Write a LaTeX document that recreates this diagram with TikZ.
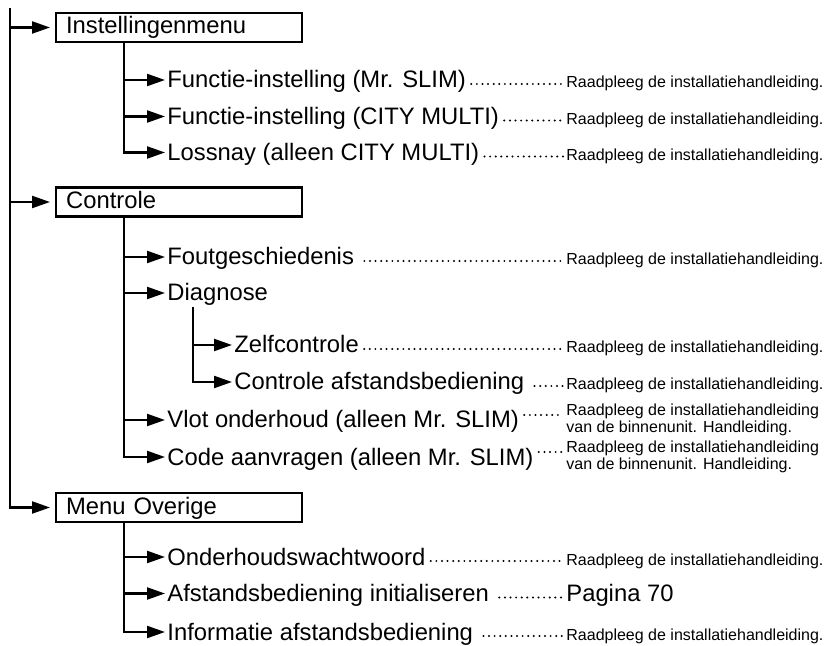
\documentclass[tikz,border=0pt]{standalone}
\usepackage{fontspec}
\setmainfont{Liberation Sans}
\usetikzlibrary{arrows.meta, positioning}
\tikzstyle{menubox} = [rectangle, draw=black, line width=1.1pt, anchor=west, minimum height=14.5pt, text width=113pt, inner xsep=5pt, inner ysep=0pt, align=left, text height=8.5pt, text depth=2pt, font=\fontsize{11.9}{14}\selectfont]
\tikzstyle{item} = [rectangle, inner xsep=1pt, inner ysep=0pt, text height=10pt, text depth=2pt, font=\fontsize{11.9}{14}\selectfont]
\tikzstyle{note} = [inner sep=0pt, anchor=base west, font=\fontsize{8}{7}\selectfont]
\tikzstyle{arrow} = [line width=1.1pt, -{Triangle[length=9pt,width=6pt]}]
\tikzstyle{leader} = [line width=1.1pt, line cap=round, dash pattern=on 0pt off 2.8pt, shorten >=1.5pt]

\begin{document}
\begin{tikzpicture}[x=0.5pt, y=0.5pt]
\useasboundingbox (0,0) rectangle (824,-646);

% Menus
\node (instel) [menubox] at (55,-27.5) {Instellingenmenu};
\node (controle) [menubox] at (55,-202) {Controle};
\node (overige) [menubox] at (55,-507.5) {Menu Overige};

% Instellingenmenu
\node (fmrslim) [item, below right=26.25pt and 55pt of instel.west, anchor=west] {Functie-instelling (Mr. SLIM)};
\node (fcity) [item, below=18.25pt of fmrslim.west, anchor=west] {Functie-instelling (CITY MULTI)};
\node (lossnay) [item, below=18pt of fcity.west, anchor=west] {Lossnay (alleen CITY MULTI)};

% Controle
\node (fout) [item, below right=27.5pt and 55pt of controle.west, anchor=west] {Foutgeschiedenis};
\node (diag) [item, below=18pt of fout.west, anchor=west] {Diagnose};
\node (zelf) [item, below right=26pt and 33.5pt of diag.west, anchor=west] {Zelfcontrole};
\node (afst) [item, below=18.5pt of zelf.west, anchor=west] {Controle afstandsbediening};
\node (vlot) [item, below=63.5pt of diag.west, anchor=west] {Vlot onderhoud (alleen Mr. SLIM)};
\node (code) [item, below=18.5pt of vlot.west, anchor=west] {Code aanvragen (alleen Mr. SLIM)};

% Menu Overige
\node (wacht) [item, below right=24.75pt and 55pt of overige.west, anchor=west] {Onderhoudswachtwoord};
\node (init) [item, below=18.25pt of wacht.west, anchor=west] {Afstandsbediening initialiseren};
\node (info) [item, below=19.25pt of init.west, anchor=west] {Informatie afstandsbediening};

% Verwijzingen
\coordinate (kolom) at (566,0);
\node (r1) [note] at (fmrslim.base -| kolom) {Raadpleeg de installatiehandleiding.};
\node (r2) [note] at (fcity.base -| kolom) {Raadpleeg de installatiehandleiding.};
\node (r3) [note] at (lossnay.base -| kolom) {Raadpleeg de installatiehandleiding.};
\node (r4) [note] at (fout.base -| kolom) {Raadpleeg de installatiehandleiding.};
\node (r5) [note] at (zelf.base -| kolom) {Raadpleeg de installatiehandleiding.};
\node (r6) [note] at (afst.base -| kolom) {Raadpleeg de installatiehandleiding.};
\node (r7) [note, anchor=west, align=left] at (vlot.west -| kolom) {Raadpleeg de installatiehandleiding\\van de binnenunit. Handleiding.};
\node (r8) [note, anchor=west, align=left] at (code.west -| kolom) {Raadpleeg de installatiehandleiding\\van de binnenunit. Handleiding.};
\node (r9) [note] at (wacht.base -| kolom) {Raadpleeg de installatiehandleiding.};
\node (r10) [note, font=\fontsize{11.9}{14}\selectfont] at (init.base -| kolom) {Pagina 70};
\node (r11) [note] at (info.base -| kolom) {Raadpleeg de installatiehandleiding.};

% Hoofdlijn
\coordinate (top) at (10,-8);
\draw [arrow, shorten >=2.5pt] (top) |- (overige);
\draw [arrow, shorten >=2.5pt] (top |- instel.west) -- (instel);
\draw [arrow, shorten >=2.5pt] (top |- controle.west) -- (controle);

% Takken
\coordinate (s1) at ([xshift=34.5pt]instel.south west);
\draw [arrow] (s1) |- (fmrslim);
\draw [arrow] (s1) |- (fcity);
\draw [arrow] (s1) |- (lossnay);
\coordinate (s2) at ([xshift=34.5pt]controle.south west);
\draw [arrow] (s2) |- (fout);
\draw [arrow] (s2) |- (diag);
\draw [arrow] (s2) |- (vlot);
\draw [arrow] (s2) |- (code);
\coordinate (s3) at ([shift={(28,-14)}]diag.west);
\draw [arrow] (s3) |- (zelf);
\draw [arrow] (s3) |- (afst);
\coordinate (s4) at ([xshift=34.5pt]overige.south west);
\draw [arrow] (s4) |- (wacht);
\draw [arrow] (s4) |- (init);
\draw [arrow] (s4) |- (info);

% Stippellijnen
\draw [leader] ([xshift=1.5pt, yshift=2pt]fmrslim.base east) -- ([yshift=2pt]r1.base west);
\draw [leader] ([xshift=1.5pt, yshift=2pt]fcity.base east) -- ([yshift=2pt]r2.base west);
\draw [leader] ([xshift=1.5pt, yshift=2pt]lossnay.base east) -- ([yshift=2pt]r3.base west);
\draw [leader] ([xshift=4pt, yshift=2pt]fout.base east) -- ([yshift=2pt]r4.base west);
\draw [leader] ([xshift=1.5pt, yshift=2pt]zelf.base east) -- ([yshift=2pt]r5.base west);
\draw [leader] ([xshift=4pt, yshift=2pt]afst.base east) -- ([yshift=2pt]r6.base west);
\draw [leader] ([shift={(3,5)}]vlot.east) coordinate (v) -- (v -| r7.west);
\draw [leader] ([shift={(3,5)}]code.east) coordinate (c) -- (c -| r8.west);
\draw [leader] ([xshift=1.5pt, yshift=2pt]wacht.base east) -- ([yshift=2pt]r9.base west);
\draw [leader] ([xshift=4pt, yshift=2pt]init.base east) -- ([yshift=2pt]r10.base west);
\draw [leader] ([xshift=4pt, yshift=2pt]info.base east) -- ([yshift=2pt]r11.base west);

\end{tikzpicture}
\end{document}
